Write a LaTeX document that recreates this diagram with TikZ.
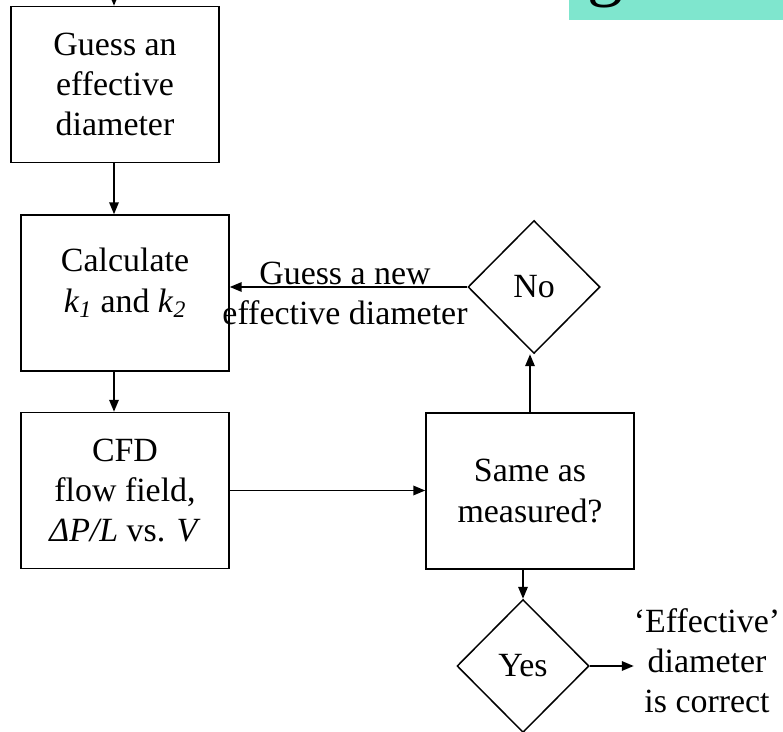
\documentclass[tikz,border=0pt]{standalone}
\usepackage{fontspec}
\setmainfont{Liberation Serif}
\usetikzlibrary{arrows.meta,shapes.geometric}
\definecolor{titleteal}{RGB}{127,230,206}

\begin{document}
\begin{tikzpicture}[x=0.02cm,y=-0.02cm]
\def\px{0.02cm}
\tikzset{txt/.style={font=\fontsize{19.3}{22.8}\selectfont}}
\tikzset{box/.style={shape=rectangle,draw,line width=0.85pt,align=center,txt,minimum width=208*\px,minimum height=156*\px,inner sep=0pt}}
\tikzset{choice/.style={shape=diamond,draw,line width=0.85pt,txt,minimum width=132*\px,minimum height=133*\px,inner sep=0pt}}
\tikzset{flow/.style={line width=1pt,-{Triangle[length=0.24cm,width=0.19cm]}}}
\useasboundingbox (0,0) rectangle (783,732);
%
\fill[titleteal] (569,-20) rectangle (800,20);
\node at (587,-7) [anchor=base west,inner sep=0pt,font=\fontsize{41}{41}\selectfont] (title) {g};
%
\node at (115,84.5) [box] (guess) {Guess an\\effective\\diameter};
\node at (125,293) [box] (calc) {};
\node at (125,283) [txt,align=center,inner sep=0pt] (calctext) {Calculate\\\textit{k}\textsubscript{\textit{1}} and \textit{k}\textsubscript{\textit{2}}};
\node at (125,490.5) [box] (cfd) {CFD\\flow field,\\\textit{ΔP/L} vs. \textit{V}};
\node at (530,491) [box] (same) {Same as\\measured?};
\node at (534,287) [choice] (no) {No};
\node at (523,666) [choice] (yes) {Yes};
\node at (345,293) [txt,align=center,inner sep=0pt] (newguess) {Guess a new\\effective diameter};
\node at (707,661) [txt,align=center,inner sep=0pt] (correct) {‘Effective’\\diameter\\is correct};
%
\coordinate (start) at (114,-10);
\draw[flow] (start) -- (start |- guess.north);
\draw[flow] (guess.south -| start) -- (calc.north -| start);
\draw[flow] (calc.south -| start) -- (cfd.north -| start);
\draw[flow] (cfd.east) -- (cfd.east -| same.west);
\draw[flow] (same.north) -- (same.north |- no.south);
\draw[flow] (no.west) -- (no.west -| calc.east);
\draw[flow] (same.south -| yes.north) -- (yes.north);
\draw[flow] (yes.east) -- ++(44,0) coordinate (done);
\end{tikzpicture}
\end{document}
